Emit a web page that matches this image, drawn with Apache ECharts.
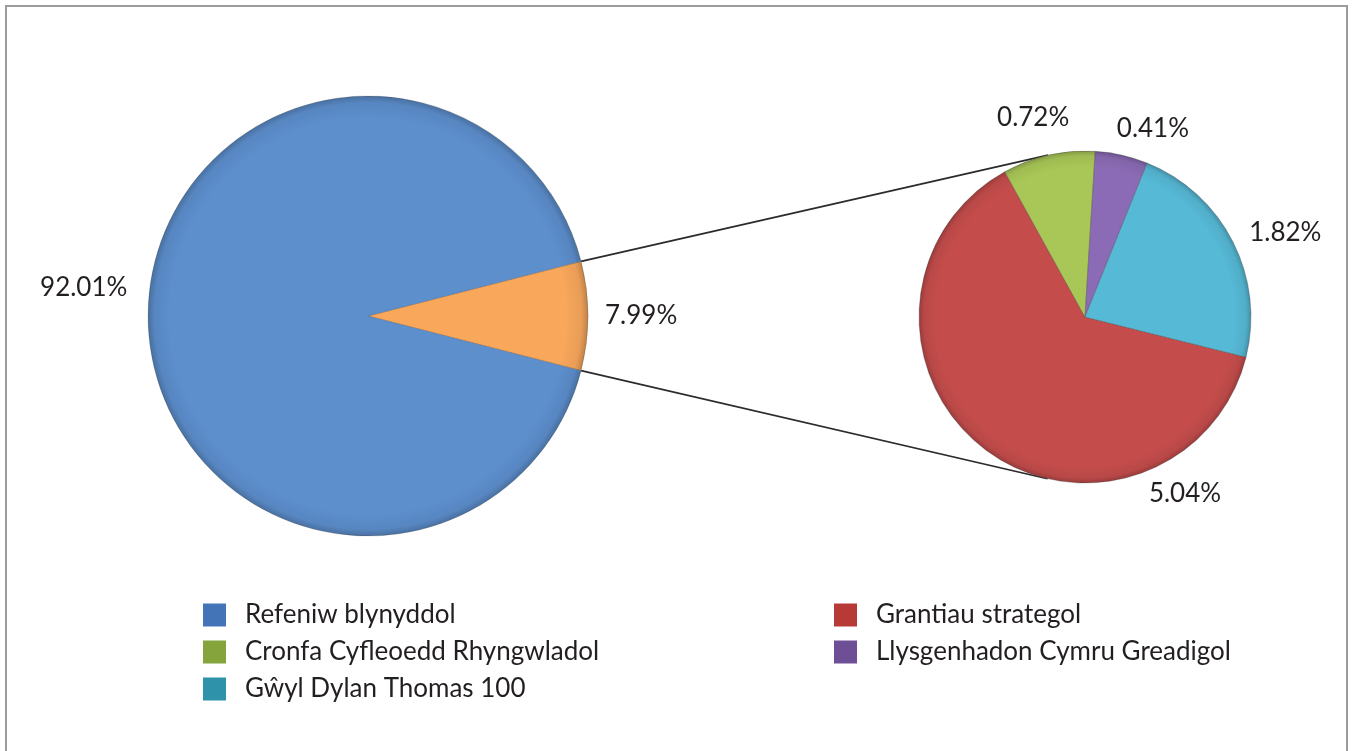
<!DOCTYPE html>
<html>
<head>
<meta charset="utf-8">
<script src="https://cdn.jsdelivr.net/npm/echarts@6/dist/echarts.min.js"></script>
<style>
  html, body { margin: 0; padding: 0; background: #ffffff; overflow: hidden; }
  #chart { position: absolute; left: 0; top: 0; width: 1352px; height: 751px; }
  #frame { position: absolute; left: 5px; top: 5px; width: 1343px; height: 800px;
           border: 2px solid #9c9c9c; box-sizing: border-box; pointer-events: none; }
</style>
</head>
<body>
<div id="chart"></div>
<div id="frame"></div>
<script>
// ---- data ----
const mainNames = ['Other', 'Refeniw blynyddol'];
const mainValues = [7.99, 92.01];
const subNames = ['Grantiau strategol', 'Cronfa Cyfleoedd Rhyngwladol', 'Llysgenhadon Cymru Greadigol', 'Gŵyl Dylan Thomas 100'];
const subValues = [5.04, 0.72, 0.41, 1.82];
const legendLeftNames = ['Refeniw blynyddol', 'Cronfa Cyfleoedd Rhyngwladol', 'Gŵyl Dylan Thomas 100'];
const legendRightNames = ['Grantiau strategol', 'Llysgenhadon Cymru Greadigol'];

// ---- styles ----
const sliceColors = {
  'Other': '#f8a75b',
  'Refeniw blynyddol': '#5d8fcd',
  'Grantiau strategol': '#c44d4b',
  'Cronfa Cyfleoedd Rhyngwladol': '#a9c757',
  'Llysgenhadon Cymru Greadigol': '#8b6bb5',
  'Gŵyl Dylan Thomas 100': '#56b9d6'
};
const legendColors = {
  'Refeniw blynyddol': '#4474b8',
  'Grantiau strategol': '#b73a37',
  'Cronfa Cyfleoedd Rhyngwladol': '#85a53c',
  'Llysgenhadon Cymru Greadigol': '#6e4f97',
  'Gŵyl Dylan Thomas 100': '#2e92ab'
};
const MAIN = { cx: 368, cy: 316, r: 220 };
const SUB = { cx: 1085, cy: 317, r: 166 };
// label direction (degrees clockwise from north) and gap beyond rim
const mainLabelDir = [90, -84.2], mainLabelGap = [17, 21];
const subLabelDir = [150.5, -14.6, 19.8, 67.2], subLabelGap = [8, 18, 10, 13];
const textColor = '#231f20';
const FONT = 'Lato';

function darken(hex, f) {
  const n = parseInt(hex.slice(1), 16);
  const r = Math.round(((n >> 16) & 255) * f), g = Math.round(((n >> 8) & 255) * f), b = Math.round((n & 255) * f);
  return 'rgb(' + r + ',' + g + ',' + b + ')';
}
function fillFor(name, P) {
  const c = sliceColors[name];
  return {
    type: 'radial', x: P.cx, y: P.cy, r: P.r, global: true,
    colorStops: [
      { offset: 0, color: c },
      { offset: 0.9, color: c },
      { offset: 0.97, color: darken(c, 0.94) },
      { offset: 1, color: darken(c, 0.78) }
    ]
  };
}
function makeData(names, values, P) {
  return names.map((n, i) => ({ name: n, value: values[i], itemStyle: { color: fillFor(n, P) } }));
}
function labelLayoutFor(P, dirs, gaps) {
  return function (params) {
    const i = params.dataIndex;
    const th = dirs[i] * Math.PI / 180;
    const w = params.labelRect.width, h = params.labelRect.height;
    const s = Math.sin(th), c = Math.cos(th);
    const d = P.r + gaps[i] + Math.abs(s) * w / 2 + Math.abs(c) * h / 2;
    return { x: P.cx + d * s, y: P.cy - d * c, align: 'center', verticalAlign: 'middle' };
  };
}

// connector lines: from the edges of the "Other" slice to tangents of the secondary pie
const half = mainValues[0] / (mainValues[0] + mainValues[1]) * Math.PI; // half-angle in rad
function tangentPoint(px, py, upper) {
  const vx = px - SUB.cx, vy = py - SUB.cy;
  const d = Math.hypot(vx, vy);
  const phi = Math.atan2(vy, vx);
  const a = Math.acos(SUB.r / d);
  const t1 = phi + a, t2 = phi - a;
  const p1 = [SUB.cx + SUB.r * Math.cos(t1), SUB.cy + SUB.r * Math.sin(t1)];
  const p2 = [SUB.cx + SUB.r * Math.cos(t2), SUB.cy + SUB.r * Math.sin(t2)];
  if (upper) return p1[1] < p2[1] ? p1 : p2;
  return p1[1] > p2[1] ? p1 : p2;
}
const topStart = [MAIN.cx + MAIN.r * Math.cos(half), MAIN.cy - MAIN.r * Math.sin(half)];
const botStart = [MAIN.cx + MAIN.r * Math.cos(half), MAIN.cy + MAIN.r * Math.sin(half)];
const topEnd = tangentPoint(topStart[0], topStart[1], true);
const botEnd = tangentPoint(botStart[0], botStart[1], false);

const labelCommon = {
  show: true, position: 'outside', color: textColor, fontFamily: FONT, fontSize: 26,
  overflow: 'none', width: 200,
  formatter: p => p.value.toFixed(2) + '%'
};
const legendCommon = {
  orient: 'vertical', top: 597, itemWidth: 23, itemHeight: 23, itemGap: 11,
  icon: 'rect', selectedMode: false,
  textStyle: { color: textColor, fontFamily: FONT, fontSize: 26, lineHeight: 24, padding: [0, 0, 0, 14] }
};

const chart = echarts.init(document.getElementById('chart'), null, { renderer: 'canvas' });
chart.setOption({
  backgroundColor: '#ffffff',
  animation: false,
  legend: [
    Object.assign({}, legendCommon, { left: 198,
      data: legendLeftNames.map(n => ({ name: n, itemStyle: { color: legendColors[n], borderWidth: 0 } })) }),
    Object.assign({}, legendCommon, { left: 829,
      data: legendRightNames.map(n => ({ name: n, itemStyle: { color: legendColors[n], borderWidth: 0 } })) })
  ],
  graphic: [
    { type: 'line', z: 0, shape: { x1: topStart[0], y1: topStart[1], x2: topEnd[0], y2: topEnd[1] },
      style: { stroke: '#2b2b2b', lineWidth: 1.6 } },
    { type: 'line', z: 0, shape: { x1: botStart[0], y1: botStart[1], x2: botEnd[0], y2: botEnd[1] },
      style: { stroke: '#2b2b2b', lineWidth: 1.6 } }
  ],
  series: [
    {
      type: 'pie', center: [MAIN.cx, MAIN.cy], radius: MAIN.r,
      startAngle: half * 180 / Math.PI, clockwise: true,
      data: makeData(mainNames, mainValues, MAIN),
      itemStyle: { borderColor: 'rgba(60,60,60,0.3)', borderWidth: 0.8 },
      label: labelCommon, labelLine: { show: false },
      labelLayout: labelLayoutFor(MAIN, mainLabelDir, mainLabelGap),
      emphasis: { disabled: true }
    },
    {
      type: 'pie', center: [SUB.cx, SUB.cy], radius: SUB.r,
      startAngle: 346, clockwise: true,
      data: makeData(subNames, subValues, SUB),
      itemStyle: { borderColor: 'rgba(60,60,60,0.4)', borderWidth: 0.8 },
      label: labelCommon, labelLine: { show: false },
      labelLayout: labelLayoutFor(SUB, subLabelDir, subLabelGap),
      emphasis: { disabled: true }
    }
  ]
});
</script>
</body>
</html>
